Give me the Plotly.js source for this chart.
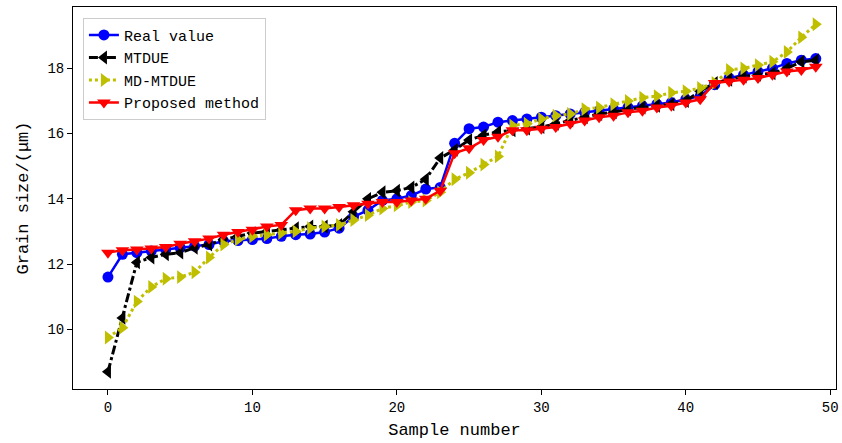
<!DOCTYPE html>
<html>
<head>
<meta charset="utf-8">
<script src="https://cdn.plot.ly/plotly-3.0.1.min.js"></script>
<style>html,body{margin:0;padding:0;background:#fff;} #chart{width:842px;height:443px;}</style>
</head>
<body>
<div id="chart"></div>
<script>
const sampleIdx = Array.from({length: 50}, (_, i) => i);

const realValue = [11.6, 12.3, 12.35, 12.4, 12.45, 12.5, 12.55, 12.6, 12.7, 12.72,
  12.75, 12.78, 12.85, 12.9, 12.92, 12.98, 13.1, 13.45, 13.65, 13.95,
  14.0, 14.1, 14.3, 14.35, 15.7, 16.15, 16.2, 16.35, 16.4, 16.45,
  16.5, 16.55, 16.6, 16.65, 16.7, 16.75, 16.8, 16.85, 16.9, 16.95,
  17.05, 17.15, 17.5, 17.7, 17.8, 17.9, 18.0, 18.15, 18.25, 18.3];

const mtdue = [8.7, 10.35, 12.05, 12.2, 12.3, 12.35, 12.5, 12.6, 12.75, 12.85,
  12.95, 13.0, 13.05, 13.1, 13.15, 13.15, 13.2, 13.6, 14.0, 14.2,
  14.25, 14.35, 14.6, 15.25, 15.5, 15.8, 15.95, 16.05, 16.1, 16.15,
  16.2, 16.3, 16.4, 16.5, 16.6, 16.65, 16.75, 16.8, 16.85, 16.9,
  17.0, 17.3, 17.55, 17.65, 17.75, 17.8, 17.85, 18.0, 18.2, 18.25];

const mdMtdue = [9.75, 10.05, 10.85, 11.3, 11.55, 11.6, 11.75, 12.2, 12.6, 12.75,
  12.85, 12.9, 12.95, 13.0, 13.1, 13.15, 13.2, 13.35, 13.5, 13.7,
  13.8, 13.9, 13.95, 14.2, 14.6, 14.8, 15.05, 15.3, 16.25, 16.3,
  16.45, 16.55, 16.6, 16.75, 16.8, 16.9, 17.0, 17.1, 17.15, 17.25,
  17.3, 17.4, 17.55, 17.95, 18.0, 18.1, 18.2, 18.5, 18.95, 19.35];

const proposed = [12.35, 12.42, 12.45, 12.48, 12.52, 12.62, 12.7, 12.78, 12.9, 12.98,
  13.05, 13.15, 13.2, 13.65, 13.7, 13.7, 13.75, 13.8, 13.85, 13.9,
  13.9, 13.95, 14.0, 14.25, 15.4, 15.55, 15.8, 15.9, 16.1, 16.1,
  16.15, 16.2, 16.3, 16.4, 16.5, 16.55, 16.65, 16.7, 16.8, 16.85,
  16.95, 17.05, 17.55, 17.6, 17.65, 17.7, 17.8, 17.9, 17.95, 18.05];

const seriesNames = ['Real value', 'MTDUE', 'MD-MTDUE', 'Proposed method'];
const xTicks = [0, 10, 20, 30, 40, 50];
const yTicks = [10, 12, 14, 16, 18];

const FONT = 'Liberation Mono, DejaVu Sans Mono, monospace';

const traces = [
  {x: sampleIdx, y: realValue, name: seriesNames[0], mode: 'lines+markers',
   line: {color: '#0000ff', width: 2.5},
   marker: {symbol: 'circle', size: 11, color: '#0000ff'}},
  {x: sampleIdx, y: mtdue, name: seriesNames[1], mode: 'lines+markers',
   line: {color: '#000000', width: 3, dash: 'dashdot'},
   marker: {symbol: 'triangle-left', size: 12, color: '#000000'}},
  {x: sampleIdx, y: mdMtdue, name: seriesNames[2], mode: 'lines+markers',
   line: {color: '#bfbf00', width: 3, dash: 'dot'},
   marker: {symbol: 'triangle-right', size: 12, color: '#bfbf00'}},
  {x: sampleIdx, y: proposed, name: seriesNames[3], mode: 'lines+markers',
   line: {color: '#ff0000', width: 2.5},
   marker: {symbol: 'triangle-down', size: 12, color: '#ff0000'}}
];

const layout = {
  width: 842, height: 443,
  margin: {l: 73, r: 6, t: 7, b: 54},
  paper_bgcolor: '#ffffff', plot_bgcolor: '#ffffff',
  font: {family: FONT, color: '#000000', size: 14},
  showlegend: true,
  legend: {x: 0.013, y: 0.972, xanchor: 'left', yanchor: 'top',
    bgcolor: 'rgba(255,255,255,0.85)', bordercolor: '#cccccc', borderwidth: 1,
    font: {family: FONT, size: 15, color: '#000000'}},
  xaxis: {
    range: [-2.42, 50.4], tickmode: 'array', tickvals: xTicks, ticktext: xTicks.map(String),
    showgrid: false, zeroline: false, showline: true, mirror: true,
    linecolor: '#000000', linewidth: 1, ticks: 'outside', ticklen: 5, tickcolor: '#000000',
    tickfont: {family: FONT, size: 14},
    title: {text: 'Sample number', font: {family: FONT, size: 17}, standoff: 8}
  },
  yaxis: {
    range: [8.17, 19.88], tickmode: 'array', tickvals: yTicks, ticktext: yTicks.map(String),
    showgrid: false, zeroline: false, showline: true, mirror: true,
    linecolor: '#000000', linewidth: 1, ticks: 'outside', ticklen: 5, tickcolor: '#000000',
    tickfont: {family: FONT, size: 14},
    title: {text: 'Grain size/(μm)', font: {family: FONT, size: 17}, standoff: 14}
  }
};

Plotly.newPlot('chart', traces, layout, {displayModeBar: false, staticPlot: true});
</script>
</body>
</html>
